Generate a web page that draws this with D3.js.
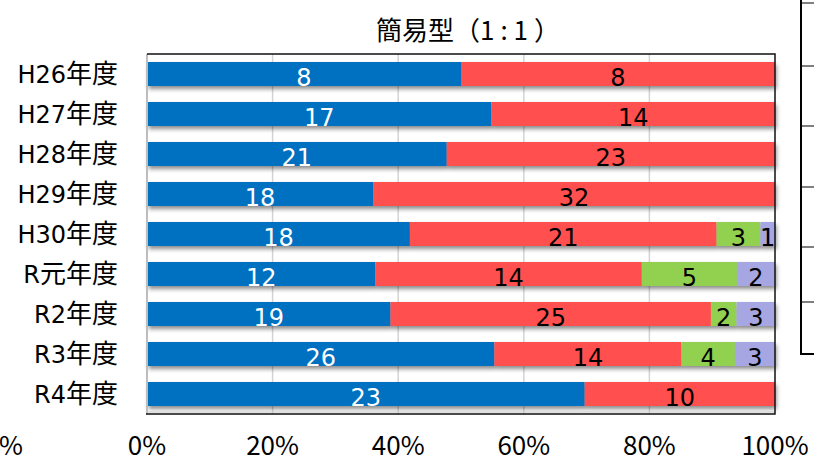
<!DOCTYPE html>
<html>
<head>
<meta charset="utf-8">
<script src="https://cdn.jsdelivr.net/npm/d3@7"></script>
<style>
  html, body { margin: 0; padding: 0; background: #fff; }
  svg { display: block; }
</style>
</head>
<body>
<svg id="chart" width="814" height="462"></svg>
<script>
const categories = ["H26年度", "H27年度", "H28年度", "H29年度", "H30年度", "R元年度", "R2年度", "R3年度", "R4年度"];
const seriesA = [8, 17, 21, 18, 18, 12, 19, 26, 23];
const seriesB = [8, 14, 23, 32, 21, 14, 25, 14, 10];
const seriesC = [0, 0, 0, 0, 3, 5, 2, 4, 0];
const seriesD = [0, 0, 0, 0, 1, 2, 3, 3, 0];
const tickValues = [0, 0.2, 0.4, 0.6, 0.8, 1];
const tickLabels = ["0%", "20%", "40%", "60%", "80%", "100%"];
const titleParts = ["簡易型（", "1:1", "）"];

const colors = ["#0070C0", "#FF5050", "#92D050", "#A6A6E2"];
const labelColors = ["#ffffff", "#000000", "#000000", "#000000"];

const svg = d3.select("#chart");
const pLeft = 147, pRight = 775, pTop = 54, pBottom = 414;

const x = d3.scaleLinear().domain([0, 1]).range([pLeft, pRight]);
const y = d3.scaleBand().domain(categories).range([pTop, pBottom]).paddingInner(0.4).paddingOuter(0.2);

const defs = svg.append("defs");
const f = defs.append("filter").attr("id", "sh").attr("x", "-5%").attr("y", "-30%").attr("width", "110%").attr("height", "180%");
f.append("feDropShadow").attr("dx", 1.5).attr("dy", 3).attr("stdDeviation", 2)
  .attr("flood-color", "#000").attr("flood-opacity", 0.45);

// neighbouring chart fragment on the far right
const frag = svg.append("g").attr("stroke", "#000");
frag.append("line").attr("x1", 801).attr("x2", 801).attr("y1", 0).attr("y2", 355).attr("stroke-width", 2);
[3, 66, 126, 187, 247, 302].forEach(v => {
  frag.append("line").attr("x1", 801).attr("x2", 814).attr("y1", v).attr("y2", v).attr("stroke-width", 1);
});
frag.append("line").attr("x1", 800).attr("x2", 814).attr("y1", 354).attr("y2", 354).attr("stroke-width", 2);

// gridlines
svg.append("g").selectAll("line").data(tickValues.slice(1, -1)).join("line")
  .attr("x1", d => x(d)).attr("x2", d => x(d))
  .attr("y1", pTop).attr("y2", pBottom)
  .attr("stroke", "#d4d4d4").attr("stroke-width", 1.5);

// stack data
const rows = categories.map((c, i) => {
  const vals = [seriesA[i], seriesB[i], seriesC[i], seriesD[i]];
  const total = d3.sum(vals);
  let acc = 0;
  return vals.map((v, k) => {
    const seg = { cat: c, k, v, x0: acc / total, x1: (acc + v) / total };
    acc += v;
    return seg;
  });
});

const barG = svg.append("g");
rows.forEach(segs => {
  const g = barG.append("g").attr("filter", "url(#sh)");
  g.selectAll("rect").data(segs.filter(s => s.v > 0)).join("rect")
    .attr("x", s => x(s.x0)).attr("width", s => x(s.x1) - x(s.x0))
    .attr("y", s => y(s.cat)).attr("height", y.bandwidth())
    .attr("fill", s => colors[s.k]);
});

// labels
const labG = svg.append("g").attr("font-family", "'DejaVu Sans', Verdana, sans-serif").attr("font-size", 24).attr("text-anchor", "middle");
rows.forEach(segs => {
  labG.selectAll(null).data(segs.filter(s => s.v > 0)).join("text")
    .attr("x", s => (x(s.x0) + x(s.x1)) / 2)
    .attr("y", s => y(s.cat) + y.bandwidth() / 2 + 12)
    .attr("fill", s => labelColors[s.k])
    .text(s => s.v);
});

// plot frame
svg.append("line").attr("x1", pLeft).attr("x2", pLeft).attr("y1", pTop).attr("y2", pBottom).attr("stroke", "#bdbdbd").attr("stroke-width", 2);
svg.append("line").attr("x1", pLeft).attr("x2", pRight).attr("y1", pBottom - 2).attr("y2", pBottom - 2).attr("stroke", "#c8c8c8").attr("stroke-width", 1);
svg.append("path")
  .attr("d", `M${pLeft},${pTop}H${pRight}V${pBottom}H${pLeft - 1}`)
  .attr("fill", "none").attr("stroke", "#111").attr("stroke-width", 1.5);

// category axis labels (latin part + CJK part)
const catT = svg.append("g").selectAll("text").data(categories).join("text")
  .attr("x", 118).attr("y", d => y(d) + y.bandwidth() / 2 + 8.5)
  .attr("text-anchor", "end")
  .attr("font-family", "'DejaVu Sans', Verdana, 'Noto Sans CJK JP', sans-serif")
  .attr("font-size", 24).attr("fill", "#000");
catT.each(function(d) {
  const m = d.match(/^([A-Z0-9]+)(.*)$/);
  const t = d3.select(this);
  t.append("tspan").text(m[1]);
  t.append("tspan").attr("font-family", "'Noto Sans CJK JP', sans-serif").attr("font-size", 26).text(m[2]);
});

// x tick labels
svg.append("g").selectAll("text").data(tickValues).join("text")
  .attr("x", d => x(d)).attr("y", 455)
  .attr("text-anchor", "middle")
  .attr("font-family", "'Noto Sans CJK JP', 'Noto Sans', sans-serif")
  .attr("font-size", 26).attr("fill", "#000")
  .text((d, i) => tickLabels[i]);

// previous chart's last tick label (cut off at left edge)
svg.append("text").attr("x", 23).attr("y", 455).attr("text-anchor", "end")
  .attr("font-family", "'Noto Sans CJK JP', 'Noto Sans', sans-serif")
  .attr("font-size", 26).attr("fill", "#000").text("100%");

// title
const tt = svg.append("text").attr("x", 468).attr("y", 40).attr("text-anchor", "middle")
  .attr("font-family", "'Noto Sans CJK JP', sans-serif")
  .attr("font-size", 26).attr("fill", "#000");
tt.append("tspan").text(titleParts[0]);
tt.append("tspan").attr("letter-spacing", 6).text(titleParts[1]);
tt.append("tspan").text(titleParts[2]);
</script>
</body>
</html>
